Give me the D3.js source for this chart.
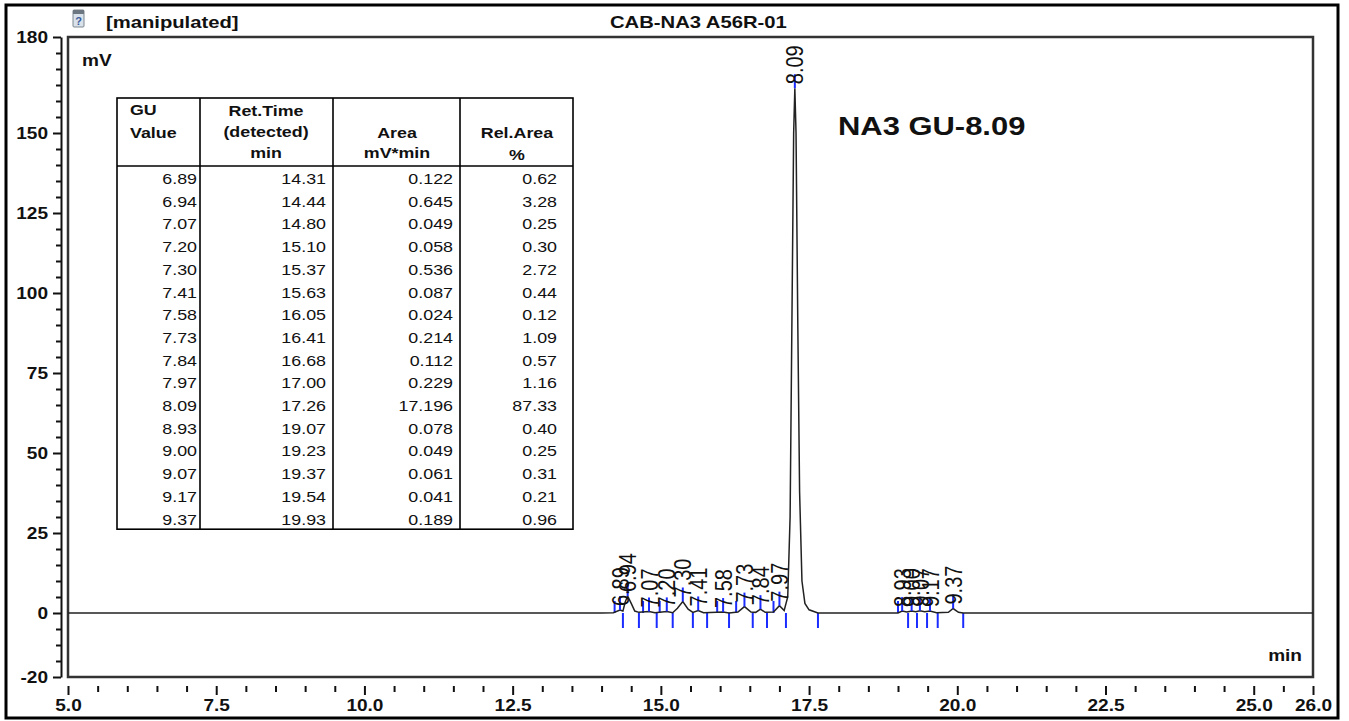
<!DOCTYPE html>
<html lang="en">
<head>
    <meta charset="UTF-8">
    <title>CAB-NA3 A56R-01</title>
    <script src="https://cdn.jsdelivr.net/npm/d3@7"></script>
</head>
<style>
    body { margin: 0; background: #fff; }
    text { font-family: Arial, "Liberation Sans", sans-serif; }
</style>
<body>
<script>
    // peak table
    const guValues = [6.89, 6.94, 7.07, 7.20, 7.30, 7.41, 7.58, 7.73, 7.84, 7.97, 8.09, 8.93, 9.00, 9.07, 9.17, 9.37];
    const retTimes = [14.31, 14.44, 14.80, 15.10, 15.37, 15.63, 16.05, 16.41, 16.68, 17.00, 17.26, 19.07, 19.23, 19.37, 19.54, 19.93];
    const areas = [0.122, 0.645, 0.049, 0.058, 0.536, 0.087, 0.024, 0.214, 0.112, 0.229, 17.196, 0.078, 0.049, 0.061, 0.041, 0.189];
    const relAreas = [0.62, 3.28, 0.25, 0.30, 2.72, 0.44, 0.12, 1.09, 0.57, 1.16, 87.33, 0.40, 0.25, 0.31, 0.21, 0.96];
    // peak heights (mV)
    const peakHeights = [0.9, 5.3, 0.5, 0.5, 3.6, 0.8, 0.3, 2.0, 1.2, 2.3, 164, 0.6, 0.6, 0.7, 0.6, 1.4];

    // trace: [min, mV]
    const trace = [
        [5.0, 0], [14.0, 0], [14.2, 0.1], [14.31, 0.9], [14.36, 0.6], [14.40, 3.5], [14.44, 5.3],
        [14.50, 3.0], [14.56, 0.6], [14.63, 0.2], [14.80, 0.5], [14.90, 0.1], [15.10, 0.5], [15.20, 0.1],
        [15.28, 1.5], [15.37, 3.6], [15.46, 1.2], [15.54, 0.2], [15.63, 0.8], [15.72, 0.1], [16.05, 0.3],
        [16.15, 0], [16.30, 0.3], [16.41, 2.0], [16.52, 0.3], [16.60, 0.2], [16.68, 1.2], [16.76, 0.2],
        [16.90, 0.3], [17.00, 2.3], [17.08, 0.8], [17.14, 5], [17.18, 30], [17.21, 90], [17.24, 150],
        [17.26, 164], [17.28, 150], [17.31, 90], [17.34, 38], [17.38, 10], [17.43, 3], [17.50, 1],
        [17.65, 0], [19.0, 0], [19.07, 0.6], [19.15, 0.3], [19.23, 0.6], [19.30, 0.4], [19.37, 0.7],
        [19.45, 0.4], [19.54, 0.6], [19.65, 0.1], [19.85, 0.2], [19.93, 1.4], [20.02, 0.2], [20.10, 0], [26.0, 0]
    ];
    // integration marks
    const peakEnds = [14.36, 14.63, 14.93, 15.20, 15.54, 15.78, 16.15, 16.55, 16.79, 17.11, 17.65, 19.17, 19.32, 19.49, 19.67, 20.10];
    const peakStarts = [14.22, 14.70, 14.98, 15.95, 16.27, 16.90, 19.00];

    const yTicks = d3.range(-20, 181, 5);
    const yLabels = [-20, 0, 25, 50, 75, 100, 125, 150, 180];
    const xTicks = d3.range(5, 26.01, 0.5);
    const xLabels = [5, 7.5, 10, 12.5, 15, 17.5, 20, 22.5, 25, 26];

    const SX = 1.19; // text in the reference is widened
    const blue = "#1a2cff";

    const svg = d3.select("body")
            .append("svg")
            .attr("width", 1349)
            .attr("height", 721);

    const x = d3.scaleLinear().domain([5, 26]).range([68, 1313]);
    const y = d3.scaleLinear().domain([-20, 180]).range([677, 37]);

    function txt(px, py, s, size, weight, anchor) {
        return svg.append("text")
                .attr("transform", `translate(${px},${py}) scale(${SX},1)`)
                .attr("font-size", size)
                .attr("font-weight", weight || "normal")
                .attr("text-anchor", anchor || "start")
                .attr("fill", "#111")
                .text(s);
    }

    // outer frame
    svg.append("rect")
            .attr("x", 6).attr("y", 5).attr("width", 1332).attr("height", 713)
            .attr("fill", "none").attr("stroke", "#000").attr("stroke-width", 3);

    // header
    const icon = svg.append("g").attr("transform", "translate(73,10)");
    icon.append("rect").attr("width", 11).attr("height", 17).attr("rx", 1)
            .attr("fill", "#d9e2ea").attr("stroke", "#7d8790");
    icon.append("rect").attr("width", 11).attr("height", 4).attr("fill", "#6b7680");
    icon.append("text").attr("x", 5.5).attr("y", 15).attr("font-size", 11)
            .attr("font-weight", "bold").attr("text-anchor", "middle").attr("fill", "#3a5a9a").text("?");
    txt(106, 28, "[manipulated]", 17, "bold");
    txt(610, 28, "CAB-NA3 A56R-01", 17, "bold");

    // plot frame
    svg.append("rect")
            .attr("x", 68).attr("y", 37).attr("width", 1245).attr("height", 640)
            .attr("fill", "none").attr("stroke", "#333").attr("stroke-width", 2.5);

    // y axis
    const yAxis = svg.append("g")
            .attr("transform", "translate(61,0)")
            .call(d3.axisLeft(y).tickValues(yTicks).tickSize(5).tickSizeOuter(0)
                    .tickFormat(d => yLabels.includes(d) ? d : ""));
    yAxis.select(".domain").attr("stroke", "#111").attr("stroke-width", 2);
    yAxis.selectAll(".tick line").attr("stroke", "#111").attr("stroke-width", 2)
            .attr("x2", d => yLabels.includes(d) ? -8 : -5);
    yAxis.selectAll(".tick text")
            .attr("font-size", 16).attr("font-weight", "bold").attr("fill", "#111")
            .attr("font-family", "Arial, 'Liberation Sans', sans-serif")
            .attr("x", -13 / SX).attr("transform", `scale(${SX},1)`);

    // x axis
    const xAxis = svg.append("g")
            .attr("transform", "translate(0,686)")
            .call(d3.axisBottom(x).tickValues(xTicks).tickSize(6).tickSizeOuter(0)
                    .tickFormat(d => xLabels.includes(d) ? d.toFixed(1) : ""));
    xAxis.select(".domain").remove();
    xAxis.selectAll(".tick line").attr("stroke", "#111").attr("stroke-width", 2)
            .attr("y2", d => xLabels.includes(d) ? 9 : 6);
    xAxis.selectAll(".tick text")
            .attr("font-size", 16).attr("font-weight", "bold").attr("fill", "#111")
            .attr("font-family", "Arial, 'Liberation Sans', sans-serif")
            .attr("y", 14).attr("transform", `scale(${SX},1)`)
            .attr("x", 0);

    txt(82, 66, "mV", 16, "bold");
    txt(1302, 661, "min", 16, "bold", "end");
    txt(838, 135, "NA3 GU-8.09", 26, "bold");

    // integration marks
    svg.append("g").selectAll("line").data(peakEnds).join("line")
            .attr("x1", d => x(d)).attr("x2", d => x(d))
            .attr("y1", y(0)).attr("y2", y(0) + 15)
            .attr("stroke", blue).attr("stroke-width", 2);
    svg.append("g").selectAll("line").data(peakStarts).join("line")
            .attr("x1", d => x(d)).attr("x2", d => x(d))
            .attr("y1", y(0)).attr("y2", y(0) - 12)
            .attr("stroke", blue).attr("stroke-width", 2);

    // trace
    svg.append("path")
            .datum(trace)
            .attr("d", d3.line().x(d => x(d[0])).y(d => y(d[1])))
            .attr("fill", "none").attr("stroke", "#222").attr("stroke-width", 1.5);

    // peak marks and labels
    const peaks = retTimes.map((t, i) => ({ t, h: peakHeights[i], gu: guValues[i] }));
    svg.append("g").selectAll("line").data(peaks).join("line")
            .attr("x1", d => x(d.t)).attr("x2", d => x(d.t))
            .attr("y1", d => y(d.h)).attr("y2", d => y(d.h) - 14)
            .attr("stroke", blue).attr("stroke-width", 2);
    svg.append("g").selectAll("text").data(peaks).join("text")
            .attr("transform", d => `translate(${x(d.t)},${y(d.h) - 4}) scale(${SX},1) rotate(-90)`)
            .attr("dy", "0.36em")
            .attr("font-size", 20)
            .attr("fill", "#111")
            .text(d => d.gu.toFixed(2));

    // table
    const cols = [117, 200, 333, 460, 573];
    const tTop = 98, tHead = 166, rowH = 22.7;
    const tBottom = tHead + rowH * guValues.length;
    const tbl = svg.append("g");
    tbl.append("rect").attr("x", cols[0]).attr("y", tTop)
            .attr("width", cols[4] - cols[0]).attr("height", tBottom - tTop)
            .attr("fill", "#fff").attr("stroke", "#000").attr("stroke-width", 1.6);
    tbl.selectAll("line.col").data(cols.slice(1, 4)).join("line")
            .attr("x1", d => d).attr("x2", d => d).attr("y1", tTop).attr("y2", tBottom)
            .attr("stroke", "#000").attr("stroke-width", 1.6);
    tbl.append("line").attr("x1", cols[0]).attr("x2", cols[4]).attr("y1", tHead).attr("y2", tHead)
            .attr("stroke", "#000").attr("stroke-width", 1.6);

    txt(130, 115, "GU", 15, "bold");
    txt(130, 138, "Value", 15, "bold");
    txt(266, 116, "Ret.Time", 15, "bold", "middle");
    txt(266, 137, "(detected)", 15, "bold", "middle");
    txt(266, 158, "min", 15, "bold", "middle");
    txt(397, 138, "Area", 15, "bold", "middle");
    txt(397, 158, "mV*min", 15, "bold", "middle");
    txt(517, 138, "Rel.Area", 15, "bold", "middle");
    txt(517, 160, "%", 15, "bold", "middle");

    const columns = [
        { vals: guValues, dec: 2, right: 197 },
        { vals: retTimes, dec: 2, right: 326 },
        { vals: areas, dec: 3, right: 453 },
        { vals: relAreas, dec: 2, right: 557 }
    ];
    columns.forEach(c => {
        c.vals.forEach((v, i) => {
            txt(c.right, tHead + rowH * i + 18, v.toFixed(c.dec), 15, "normal", "end");
        });
    });
</script>
</body>
</html>
